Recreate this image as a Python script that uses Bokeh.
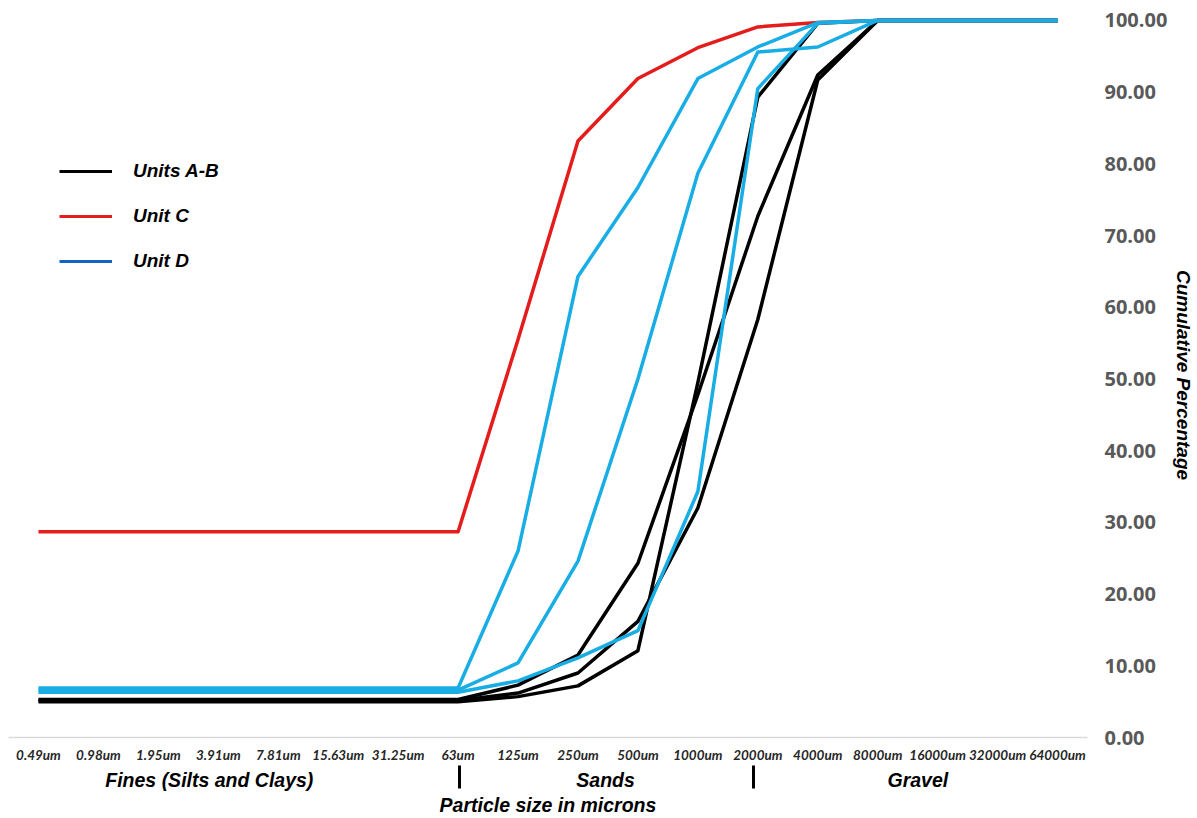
from bokeh.plotting import figure
from bokeh.models import (Range1d, FixedTicker, LinearAxis, Legend, LegendItem,
                          PrintfTickFormatter)
from bokeh.core.properties import value
from bokeh.embed import file_html
from bokeh.resources import INLINE

# ---------------- data ----------------
sizes = ["0.49um", "0.98um", "1.95um", "3.91um", "7.81um", "15.63um", "31.25um",
         "63um", "125um", "250um", "500um", "1000um", "2000um", "4000um",
         "8000um", "16000um", "32000um", "64000um"]

groups = ["Fines (Silts and Clays)", "Sands", "Gravel"]
group_centers = [2.85, 9.46, 14.67]
group_breaks = [7.03, 11.92]

# Units A-B (black)
units_ab_1 = [5.3, 5.3, 5.3, 5.3, 5.3, 5.3, 5.3, 5.3, 7.3, 11.5, 24.3, 47.8, 72.7, 92.4, 100, 100, 100, 100]
units_ab_2 = [5.0, 5.0, 5.0, 5.0, 5.0, 5.0, 5.0, 5.0, 5.7, 7.2, 12.1, 49.5, 89.3, 99.6, 100, 100, 100, 100]
units_ab_3 = [5.15, 5.15, 5.15, 5.15, 5.15, 5.15, 5.15, 5.15, 6.2, 9.0, 16.2, 32.0, 58.3, 91.7, 100, 100, 100, 100]

# Unit C (red)
unit_c = [28.7, 28.7, 28.7, 28.7, 28.7, 28.7, 28.7, 28.7, 55.5, 83.2, 91.9, 96.2, 99.1, 99.7, 100, 100, 100, 100]

# Unit D (blue)
unit_d_1 = [6.9, 6.9, 6.9, 6.9, 6.9, 6.9, 6.9, 6.9, 26.0, 64.3, 76.7, 91.9, 96.3, 99.7, 100, 100, 100, 100]
unit_d_2 = [6.6, 6.6, 6.6, 6.6, 6.6, 6.6, 6.6, 6.6, 10.4, 24.6, 50.0, 78.7, 95.6, 96.3, 100, 100, 100, 100]
unit_d_3 = [6.3, 6.3, 6.3, 6.3, 6.3, 6.3, 6.3, 6.3, 7.9, 11.1, 14.9, 34.3, 90.5, 99.6, 100, 100, 100, 100]

y_ticks = [0, 10, 20, 30, 40, 50, 60, 70, 80, 90, 100]

legend_labels = ["Units A-B", "Unit C", "Unit D"]
x_title = "Particle size in microns"
y_title = "Cumulative Percentage"

# ---------------- styling ----------------
BLACK = "#000000"
RED = "#E41C1C"
BLUE = "#18ADE4"
LEGEND_BLUE = "#1462C6"
LW = 3.5
BOLD_ITALIC = "bold italic"

x = list(range(len(sizes)))

p = figure(width=1197, height=818, output_backend="svg", toolbar_location=None,
           x_range=Range1d(-0.5, len(sizes) - 0.5), y_range=Range1d(0, 101.11),
           y_axis_location="right",
           min_border_top=12, min_border_left=8, min_border_right=109, min_border_bottom=0)
p.outline_line_color = None
p.grid.visible = False
p.background_fill_color = "white"
p.border_fill_color = "white"

# lines
for vals in (units_ab_1, units_ab_2, units_ab_3):
    p.line(x, vals, line_color=BLACK, line_width=LW, line_join="round")
p.line(x, unit_c, line_color=RED, line_width=LW, line_join="round")
for vals in (unit_d_1, unit_d_2, unit_d_3):
    p.line(x, vals, line_color=BLUE, line_width=LW, line_join="round")

# x axis (sizes)
xa = p.xaxis[0]
xa.ticker = FixedTicker(ticks=x)
xa.major_label_overrides = {i: s for i, s in enumerate(sizes)}
xa.major_tick_in = 0
xa.major_tick_out = 0
xa.minor_tick_in = 0
xa.minor_tick_out = 0
xa.axis_line_color = "#D9D9D9"
xa.axis_line_width = 1.3
xa.major_label_text_font = "Lato"
xa.major_label_text_font_style = BOLD_ITALIC
xa.major_label_text_font_size = "13.5px"
xa.major_label_text_color = "#262626"
xa.major_label_standoff = 9

# group axis (Fines / Sands / Gravel) + axis title
ga = LinearAxis(ticker=FixedTicker(ticks=group_centers, minor_ticks=group_breaks))
ga.major_label_overrides = {c: g for c, g in zip(group_centers, groups)}
ga.axis_line_color = None
ga.major_tick_in = 0
ga.major_tick_out = 0
ga.minor_tick_in = 0
ga.minor_tick_out = 23
ga.minor_tick_line_width = 3
ga.minor_tick_line_color = "black"
ga.major_label_text_font = "Liberation Sans"
ga.major_label_text_font_style = BOLD_ITALIC
ga.major_label_text_font_size = "19.5px"
ga.major_label_text_color = "black"
ga.major_label_standoff = -20
ga.axis_label = x_title
ga.axis_label_text_font = "Liberation Sans"
ga.axis_label_text_font_style = BOLD_ITALIC
ga.axis_label_text_font_size = "19.5px"
ga.axis_label_text_color = "black"
ga.axis_label_standoff = 0
p.add_layout(ga, "below")

# y axis (right) with title reading top to bottom
ya = p.yaxis[0]
ya.ticker = FixedTicker(ticks=y_ticks)
ya.formatter = PrintfTickFormatter(format="%.2f")
ya.axis_line_color = None
ya.major_tick_in = 0
ya.major_tick_out = 0
ya.minor_tick_in = 0
ya.minor_tick_out = 0
ya.major_label_text_font = "Open Sans"
ya.major_label_text_font_style = "bold"
ya.major_label_text_font_size = "20px"
ya.major_label_text_color = "#595959"
ya.major_label_standoff = 17
ya.axis_label = y_title
ya.axis_label_text_font = "Liberation Sans"
ya.axis_label_text_font_style = BOLD_ITALIC
ya.axis_label_text_font_size = "19px"
ya.axis_label_text_color = "black"
ya.axis_label_standoff = 3

# legend (with its own swatch colours)
nan = float("nan")
lk = p.line([nan], [nan], line_color=BLACK, line_width=3)
lr = p.line([nan], [nan], line_color=RED, line_width=3)
lb = p.line([nan], [nan], line_color=LEGEND_BLUE, line_width=3)
legend = Legend(items=[LegendItem(label=value(legend_labels[0]), renderers=[lk]),
                       LegendItem(label=value(legend_labels[1]), renderers=[lr]),
                       LegendItem(label=value(legend_labels[2]), renderers=[lb])],
                location=(51, 465), orientation="vertical",
                glyph_width=53, glyph_height=20, label_height=20,
                label_standoff=21, spacing=23, padding=0, margin=0,
                border_line_color=None, background_fill_alpha=0,
                label_text_font="Liberation Sans", label_text_font_style=BOLD_ITALIC,
                label_text_font_size="19px", label_text_color="black")
p.add_layout(legend)

open("out.html", "w").write(file_html(p, INLINE))
